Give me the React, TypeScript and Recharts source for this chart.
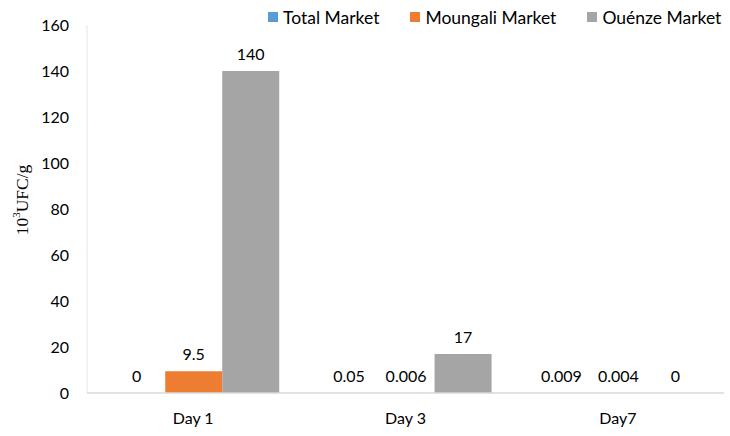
import { BarChart, Bar, XAxis, YAxis, LabelList, Legend } from 'recharts'

document.body.style.margin = '0'

const days = ['Day 1', 'Day 3', 'Day7']
const totalMarket = [0, 0.05, 0.009]
const moungaliMarket = [9.5, 0.006, 0.004]
const ouenzeMarket = [140, 17, 0]
const yTicks = [0, 20, 40, 60, 80, 100, 120, 140, 160]

const series = [
  { key: 'total', name: 'Total Market', color: '#5B9BD5' },
  { key: 'moungali', name: 'Moungali Market', color: '#ED7D31' },
  { key: 'ouenze', name: 'Ouénze Market', color: '#A5A5A5' },
]

const data = days.map((day, i) => ({
  day,
  total: totalMarket[i],
  moungali: moungaliMarket[i],
  ouenze: ouenzeMarket[i],
}))

const font = 'Lato, "Open Sans", sans-serif'

function LegendContent() {
  return (
    <div style={{ display: 'flex', gap: '31px', fontFamily: font, fontSize: '17.5px', color: '#000', height: 22 }}>
      {series.map((s) => (
        <div key={s.key} style={{ display: 'flex', alignItems: 'center' }}>
          <span style={{ width: 10, height: 10, background: s.color, marginRight: 5, display: 'inline-block' }} />
          {s.name}
        </div>
      ))}
    </div>
  )
}

function YLabel() {
  return (
    <text
      x={22}
      y={200}
      transform="rotate(-90 22 200)"
      textAnchor="middle"
      dominantBaseline="central"
      fontFamily='"Liberation Serif", "DejaVu Serif", serif'
      fontSize={17.5}
      fill="#000"
    >
      10<tspan fontSize={11} dy={-6}>3</tspan>
      <tspan dy={6}>UFC/g</tspan>
    </text>
  )
}

export default function App() {
  return (
    <div style={{ width: 730, height: 436, background: '#fff' }}>
      <BarChart
        width={730}
        height={436}
        data={data}
        margin={{ top: 3, right: 6, bottom: 0, left: 0 }}
        barCategoryGap="10%"
        barGap={0}
      >
        <XAxis
          dataKey="day"
          tickLine={false}
          tickSize={0}
          tickMargin={20}
          height={43}
          axisLine={{ stroke: '#d9d9d9', strokeWidth: 1.5 }}
          tick={{ fill: '#000', fontSize: 16, fontFamily: font }}
        />
        <YAxis
          domain={[0, 160]}
          ticks={yTicks}
          width={87}
          tickLine={false}
          tickSize={0}
          tickMargin={18}
          axisLine={{ stroke: '#e6e6e6' }}
          tick={{ fill: '#000', fontSize: 16, fontFamily: font }}
          label={<YLabel />}
        />
        <Legend
          verticalAlign="top"
          height={22}
          content={<LegendContent />}
          wrapperStyle={{ top: 6, left: 268, width: 470 }}
        />
        {series.map((s) => (
          <Bar
            key={s.key}
            dataKey={s.key}
            name={s.name}
            fill={s.color}
            minPointSize={0.01}
            isAnimationActive={false}
          >
            <LabelList dataKey={s.key} position="top" offset={11} fill="#000" fontSize={16} fontFamily={font} />
          </Bar>
        ))}
      </BarChart>
    </div>
  )
}
